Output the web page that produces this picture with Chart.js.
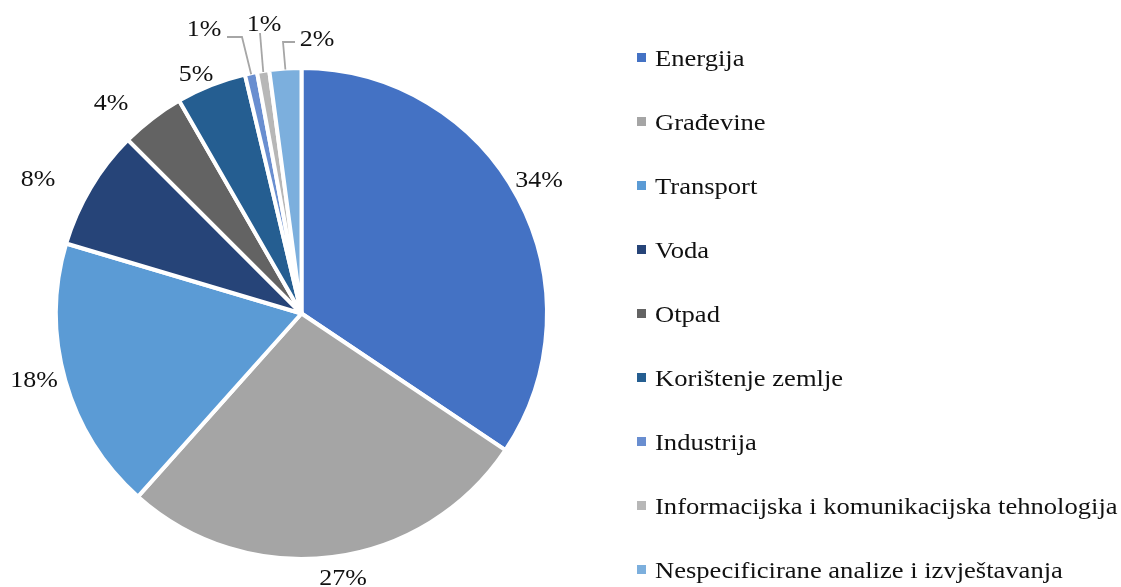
<!DOCTYPE html>
<html>
<head>
<meta charset="utf-8">
<script src="https://cdn.jsdelivr.net/npm/chart.js@4"></script>
<style>
  html, body { margin: 0; padding: 0; background: #fff; }
  #wrap { width: 1121px; height: 587px; position: relative; }
</style>
</head>
<body>
<div id="wrap"><canvas id="c" width="1121" height="587"></canvas></div>
<script>
// ---- data ----
const categories = [
  'Energija',
  'Građevine',
  'Transport',
  'Voda',
  'Otpad',
  'Korištenje zemlje',
  'Industrija',
  'Informacijska i komunikacijska tehnologija',
  'Nespecificirane analize i izvještavanja'
];
const shares = [34.4, 27.2, 18.0, 7.9, 4.2, 4.6, 0.8, 0.8, 2.1];
const sliceColors = ['#4472C4', '#A5A5A5', '#5B9BD5', '#264478', '#636363', '#255E91', '#698ED0', '#B7B7B7', '#7CAFDD'];

// ---- layout of the annotation texts (text centres) ----
const labelPos = [[539, 181], [343, 579], [34, 381], [38, 180], [111, 104], [196, 75], [204, 30], [264, 25], [317, 40]];
// leader lines: index -> list of points after the arc edge point
const leaders = { 6: [[242, 37], [227, 37]], 7: [[260, 33]], 8: [[283, 42], [295, 42]] };

const FONT = '"Liberation Serif", "Times New Roman", serif';

function drawScaledText(ctx, text, x, y, size, sx, align, baseline) {
  ctx.save();
  ctx.font = size + 'px ' + FONT;
  ctx.textAlign = align;
  ctx.textBaseline = baseline;
  ctx.translate(x, y);
  ctx.scale(sx, 1);
  ctx.fillText(text, 0, 0);
  ctx.restore();
}

const annotPlugin = {
  id: 'annot',
  afterDatasetsDraw(chart) {
    const ctx = chart.ctx;
    const meta = chart.getDatasetMeta(0);
    const data = chart.data.datasets[0].data;
    const total = data.reduce((a, b) => a + b, 0);
    ctx.save();
    // leader lines
    ctx.strokeStyle = '#A6A6A6';
    ctx.lineWidth = 1.8;
    Object.keys(leaders).forEach(k => {
      const arc = meta.data[+k];
      const mid = (arc.startAngle + arc.endAngle) / 2;
      const r = arc.outerRadius - 1;
      const sx = arc.x + Math.cos(mid) * r;
      const sy = arc.y + Math.sin(mid) * r;
      ctx.beginPath();
      ctx.moveTo(sx, sy);
      leaders[k].forEach(p => ctx.lineTo(p[0], p[1]));
      ctx.stroke();
    });
    // percentage labels
    ctx.fillStyle = '#111111';
    data.forEach((v, i) => {
      const txt = Math.round(v / total * 100) + '%';
      drawScaledText(ctx, txt, labelPos[i][0], labelPos[i][1], 24, 1.08, 'center', 'middle');
    });
    // legend
    const lx = 637, tx = 655, y0 = 66, step = 64;
    chart.data.labels.forEach((lab, i) => {
      const by = y0 + step * i;
      ctx.fillStyle = chart.data.datasets[0].backgroundColor[i];
      ctx.fillRect(lx, by - 13, 9, 9);
      ctx.fillStyle = '#111111';
      drawScaledText(ctx, lab, tx, by, 23, 1.155, 'left', 'alphabetic');
    });
    ctx.restore();
  }
};

new Chart(document.getElementById('c'), {
  type: 'pie',
  data: {
    labels: categories,
    datasets: [{
      data: shares,
      backgroundColor: sliceColors,
      borderColor: '#ffffff',
      borderWidth: 4
    }]
  },
  options: {
    responsive: false,
    animation: false,
    layout: { padding: { left: 54, top: 66, bottom: 26, right: 572 } },
    plugins: {
      legend: { display: false },
      tooltip: { enabled: false }
    }
  },
  plugins: [annotPlugin]
});
</script>
</body>
</html>
